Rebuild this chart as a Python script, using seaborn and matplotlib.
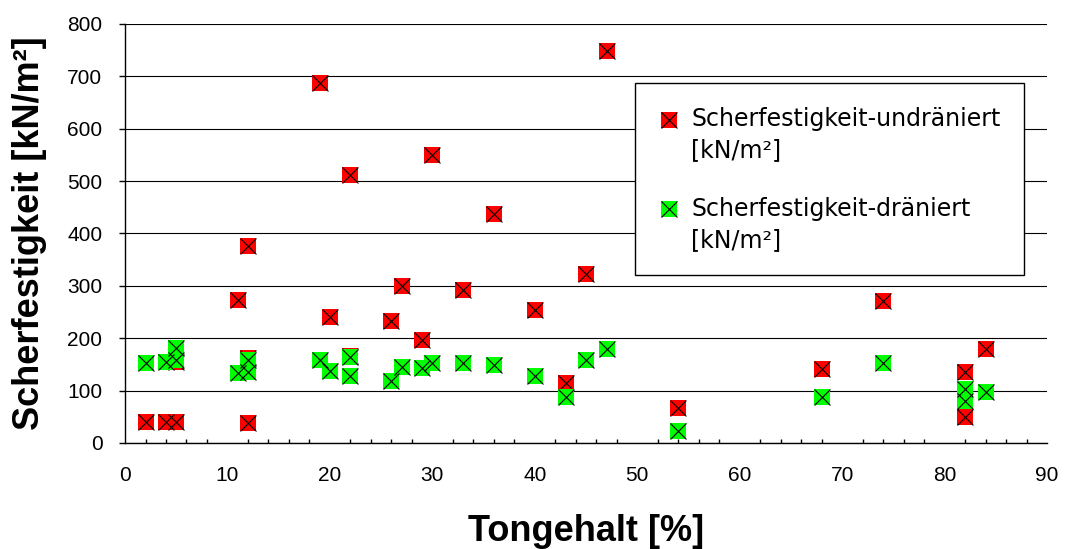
import matplotlib.pyplot as plt
import seaborn as sns
from matplotlib.lines import Line2D
from matplotlib.legend_handler import HandlerTuple
from matplotlib.ticker import MultipleLocator

# Tongehalt [%] / Scherfestigkeit [kN/m²]
x_undr = [2, 4, 5, 5, 11, 12, 12, 12, 19, 20, 22, 22, 26, 27, 29, 30, 33, 36,
          40, 43, 45, 47, 54, 68, 74, 82, 82, 84]
y_undr = [41, 41, 41, 155, 273, 376, 162, 39, 687, 240, 511, 166, 233, 300, 197,
          550, 292, 437, 254, 114, 322, 748, 67, 141, 272, 136, 50, 179]

x_dr = [2, 4, 5, 5, 11, 12, 12, 19, 20, 22, 22, 26, 27, 29, 30, 33, 36, 40, 43,
        45, 47, 54, 68, 74, 82, 82, 84]
y_dr = [153, 155, 158, 182, 134, 158, 136, 158, 138, 164, 128, 119, 146, 143,
        153, 153, 149, 128, 88, 158, 179, 23, 88, 153, 104, 80, 98]

lbl_undr = "Scherfestigkeit-undräniert\n[kN/m²]"
lbl_dr = "Scherfestigkeit-dräniert\n[kN/m²]"
x_ticks = list(range(0, 91, 10))
y_ticks = list(range(0, 801, 100))

sns.set_style("white")
plt.rcParams['font.family'] = ['Liberation Sans', 'DejaVu Sans']
plt.rcParams['text.color'] = 'black'
plt.rcParams['axes.labelcolor'] = 'black'
plt.rcParams['xtick.color'] = 'black'
plt.rcParams['ytick.color'] = 'black'

fig = plt.figure(figsize=(10.65, 5.49), dpi=100)
ax = fig.add_axes([0.1174, 0.1931, 0.8657, 0.7632])

msize = 132
red = '#FF0000'
green = '#00FF00'

sns.scatterplot(x=x_undr, y=y_undr, marker='s', s=msize, color=red, linewidth=0, ax=ax, zorder=3)
sns.scatterplot(x=x_undr, y=y_undr, marker='x', s=msize, color='black', linewidth=0.8, ax=ax, zorder=3)
sns.scatterplot(x=x_dr, y=y_dr, marker='s', s=msize, color=green, linewidth=0, ax=ax, zorder=4)
sns.scatterplot(x=x_dr, y=y_dr, marker='x', s=msize, color='black', linewidth=0.8, ax=ax, zorder=4)

ax.set_xlim(0, 90)
ax.set_ylim(0, 800)
ax.set_xticks(x_ticks)
ax.set_yticks(y_ticks)
ax.xaxis.set_minor_locator(MultipleLocator(2))

ax.yaxis.grid(True, color='black', lw=0.8)
ax.set_axisbelow(True)
for s in ['top', 'right']:
    ax.spines[s].set_visible(False)
for s in ['left', 'bottom']:
    ax.spines[s].set_color('black')
    ax.spines[s].set_linewidth(1.0)

ax.tick_params(axis='x', which='major', direction='inout', length=9.5, width=1,
               color='black', labelcolor='black', labelsize=15, pad=12)
ax.tick_params(axis='x', which='minor', direction='in', length=3, width=1,
               color='black', bottom=True)
ax.tick_params(axis='y', which='major', direction='out', length=4.3, width=1,
               color='black', labelcolor='black', labelsize=15, pad=12, left=True)

ax.set_xlabel('Tongehalt [%]', fontsize=26, fontweight='bold', color='black')
ax.set_ylabel('Scherfestigkeit [kN/m²]', fontsize=26, fontweight='bold', color='black')
ax.xaxis.set_label_coords(0.5, -0.17)
ax.yaxis.set_label_coords(-0.085, 0.5)


class TopHandler(HandlerTuple):
    # marker sits on the first line of the two-line label
    def create_artists(self, legend, orig_handle, xdescent, ydescent, width,
                       height, fontsize, trans):
        return super().create_artists(legend, orig_handle, xdescent,
                                      ydescent - 23.5, width, height,
                                      fontsize, trans)


def handle(c):
    sq = Line2D([], [], marker='s', color=c, markersize=11.5, linestyle='none',
                markeredgewidth=0)
    xx = Line2D([], [], marker='x', color='black', markersize=11.5,
                linestyle='none', markeredgewidth=0.8)
    return (sq, xx)


leg = ax.legend([handle(red), handle(green)], [lbl_undr, lbl_dr],
                handler_map={tuple: TopHandler(ndivide=1)},
                loc='upper left', bbox_to_anchor=(0.596, 0.848),
                bbox_transform=fig.transFigure,
                prop={'family': 'DejaVu Sans', 'size': 17},
                frameon=True, fancybox=False, framealpha=1, edgecolor='black',
                borderpad=1.0, labelspacing=1.45, handlelength=0.9,
                handletextpad=0.5, borderaxespad=0, labelcolor='black')
leg.get_frame().set_linewidth(1.0)
for t in leg.get_texts():
    t.set_linespacing(1.38)

fig.savefig('out.png', dpi=100)
